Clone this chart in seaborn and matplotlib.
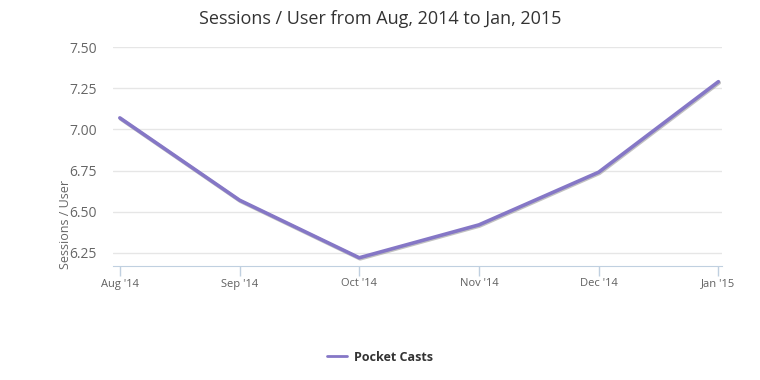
import pandas as pd
import numpy as np
import matplotlib
matplotlib.use("Agg")
import matplotlib.pyplot as plt
import matplotlib.patheffects as pe
import seaborn as sns

months = ["Aug '14", "Sep '14", "Oct '14", "Nov '14", "Dec '14", "Jan '15"]
sessions_per_user = [7.07, 6.57, 6.22, 6.42, 6.74, 7.29]
series_name = "Pocket Casts"

df = pd.DataFrame({"month": months, "value": sessions_per_user, "series": series_name})
df["pos"] = range(len(months))

sns.set_style("white")
plt.rcParams["font.family"] = ["Open Sans", "DejaVu Sans"]

fig = plt.figure(figsize=(7.6, 3.8), dpi=100)
ax = fig.add_axes([0.149, 0.30, 0.801, 0.576])

sns.lineplot(data=df, x="pos", y="value", hue="series", palette=["#8577c6"],
             linewidth=2.6, ax=ax, legend=False)
for line in ax.lines:
    line.set_path_effects([pe.SimpleLineShadow(offset=(0.6, -0.8), shadow_color="#999999", alpha=0.6),
                           pe.Normal()])
    line.set_solid_capstyle("round")

ax.set_xlim(-0.055, 5.03)
ax.set_ylim(6.17, 7.5)
ax.set_yticks([6.25, 6.5, 6.75, 7.0, 7.25, 7.5])
ax.set_yticklabels([f"{v:.2f}" for v in [6.25, 6.5, 6.75, 7.0, 7.25, 7.5]], fontsize=10, color="#666666")
ax.set_xticks(df["pos"])
ax.set_xticklabels(months, fontsize=8, color="#606060")
ax.tick_params(axis="x", bottom=True, direction="out", length=7, width=1, color="#c0d0e0", pad=2)
ax.tick_params(axis="y", length=0, pad=12)
ax.grid(axis="y", color="#e6e6e6", linewidth=1)
for s in ["top", "right", "left"]:
    ax.spines[s].set_visible(False)
ax.spines["bottom"].set_color("#c0d0e0")
ax.set_xlabel("")
ax.set_ylabel("Sessions / User", fontsize=9, color="#666666")
ax.yaxis.set_label_coords(-0.068, 0.19)

fig.suptitle("Sessions / User from Aug, 2014 to Jan, 2015", x=0.5, y=0.975,
             fontsize=13, color="#333333")

handle = plt.Line2D([], [], color="#8577c6", linewidth=2)
fig.legend([handle], [series_name], loc="center", bbox_to_anchor=(0.5, 0.06),
           frameon=False, prop={"weight": "bold", "size": 9}, labelcolor="#333333",
           handlelength=1.6, handletextpad=0.5)

fig.savefig("out.png", dpi=100)
